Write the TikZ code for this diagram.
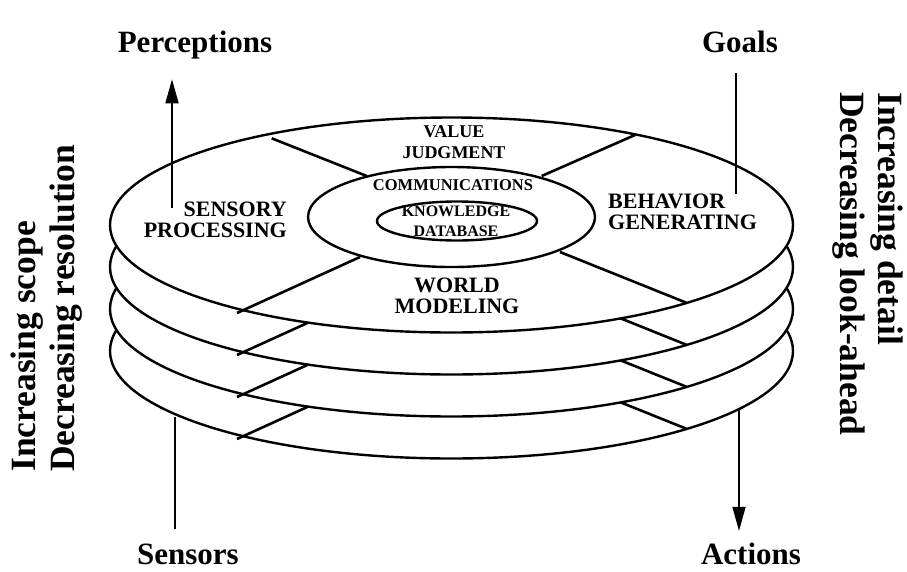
\documentclass[tikz,border=0pt]{standalone}
\usepackage{fontspec}
\setmainfont{Liberation Serif}
\usetikzlibrary{arrows.meta, positioning, calc}

\begin{document}
\begin{tikzpicture}[
    x=1pt, y=-1pt,
    disk/.style={draw, fill=white, line width=2.4pt},
    spoke/.style={line width=2.6pt},
    region/.style={font=\bfseries\fontsize{22}{21}\selectfont, inner sep=0pt},
    core/.style={font=\bfseries\fontsize{16.5}{20}\selectfont, inner sep=0pt, align=center},
    io/.style={font=\bfseries\fontsize{31}{33}\selectfont, inner sep=0pt},
    sidenote/.style={font=\bfseries\fontsize{35.5}{38.5}\selectfont, inner sep=0pt, align=left},
    arrow/.style={-{Triangle[length=24pt, width=13pt]}, line width=1.5pt},
    wire/.style={line width=1.5pt}
]
\useasboundingbox (0,0) rectangle (907,571);

% Discos inferiores, de abajo hacia arriba
\foreach \k in {3,2,1}{
  \begin{scope}[shift={(0,42*\k)}]
    \draw[disk] (451.5,225) ellipse [x radius=341.5, y radius=107.5];
    \draw[spoke] (237,313) -- (360,257);
    \draw[spoke] (687,303) -- (560,252);
  \end{scope}
}

% Disco superior con sus cuatro sectores
\draw[disk] (451.5,225) ellipse [x radius=341.5, y radius=107.5];
\draw[spoke] (271.7,138.3) -- (366.7,176);
\draw[spoke] (635,135) -- (541.7,176);
\draw[spoke] (237,313) -- (360,257);
\draw[spoke] (687,303) -- (560,252);
\draw[disk] (451.5,217) ellipse [x radius=143.5, y radius=50];
\draw[disk] (457,221) ellipse [x radius=80, y radius=19.5];

% Textos de los sectores
\node[region, anchor=east, align=right] (sp) at (287,220) {SENSORY\\PROCESSING};
\node[region, anchor=west, align=left] (bg) at (608,212) {BEHAVIOR\\GENERATING};
\node[region, align=center] (wm) at (457,296) {WORLD\\MODELING};
\node[core, font=\bfseries\fontsize{18}{21}\selectfont] (vj) at (454,142.5) {VALUE\\JUDGMENT};
\node[core] (com) at (453,185) {COMMUNICATIONS};
\node[core, font=\bfseries\fontsize{16}{20}\selectfont] (kd) at (456,221) {KNOWLEDGE\\DATABASE};

% Entradas y salidas
\node[io] (percep) at (195,45) {Perceptions};
\node[io] (goals) at (740,42) {Goals};
\node[io] (sensors) at (188,554) {Sensors};
\node[io] (actions) at (751,554) {Actions};

\coordinate (pin) at (172,208);
\coordinate (gin) at (736,194);
\coordinate (sin) at (175,417);
\coordinate (ain) at (739,409);

\draw[arrow, shorten >=20pt] (pin) -- (pin |- percep.south);
\draw[wire, shorten <=20pt] (gin |- goals.south) -- (gin);
\draw[wire, shorten >=14pt] (sin) -- (sin |- sensors.north);
\draw[arrow, shorten >=12pt] (ain) -- (ain |- actions.north);

% Ejes laterales
\node[sidenote, rotate=90, anchor=west] (leftnote) at (46.5,472) {Increasing scope\\Decreasing resolution};
\node[sidenote, rotate=-90, anchor=west] (rightnote) at (868,92) {Increasing detail\\Decreasing look-ahead};

\end{tikzpicture}
\end{document}
